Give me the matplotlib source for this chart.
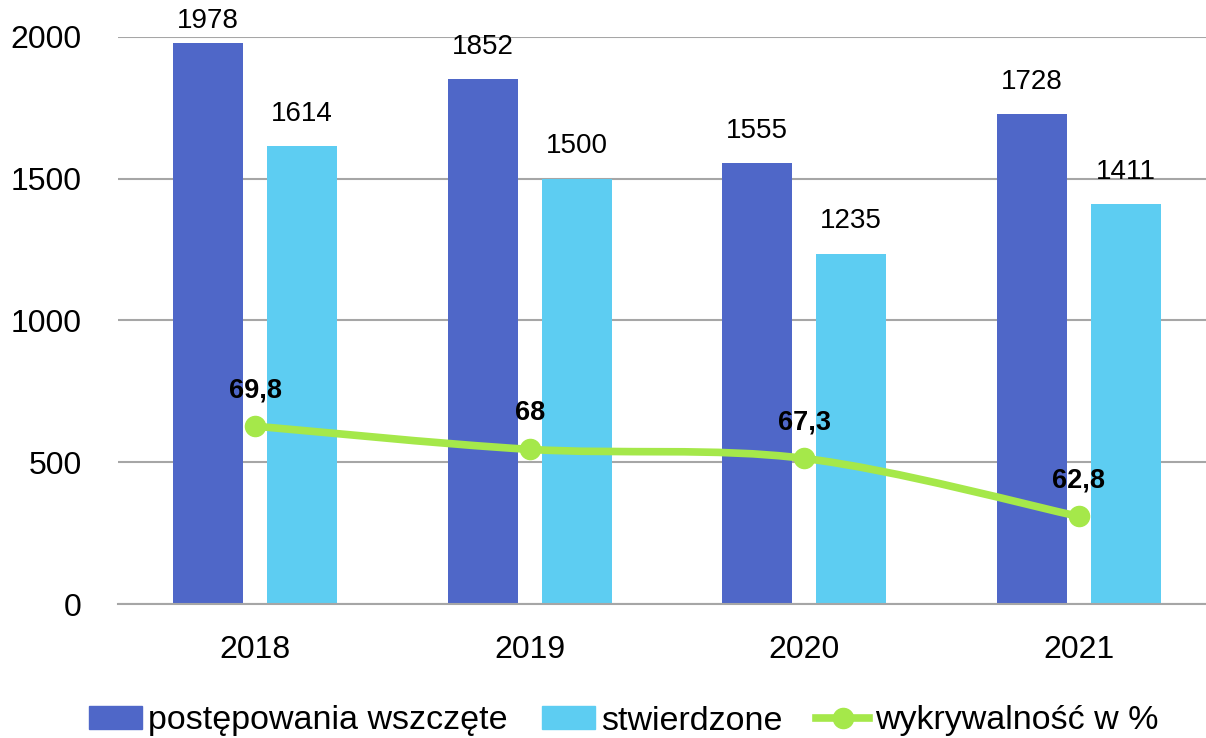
import numpy as np
import matplotlib
matplotlib.use("Agg")
import matplotlib.pyplot as plt
from matplotlib.path import Path
from matplotlib.patches import PathPatch, Rectangle
from matplotlib.lines import Line2D

plt.rcParams['font.family'] = ['Liberation Sans', 'DejaVu Sans']

years = ['2018', '2019', '2020', '2021']
wszczete = [1978, 1852, 1555, 1728]
stwierdzone = [1614, 1500, 1235, 1411]
wykrywalnosc = [69.8, 68.0, 67.3, 62.8]
wykr_labels = ['69,8', '68', '67,3', '62,8']

c_dark = '#4F67C8'
c_light = '#5DCDF2'
c_green = '#A5E84A'

fig = plt.figure(figsize=(12.06, 7.38), dpi=100)
ax = fig.add_axes([118 / 1206, 1 - 604 / 738, 1098 / 1206, (604 - 37) / 738])

x = np.arange(len(years))
off = 0.171
w = 0.255
ax.bar(x - off, wszczete, w, color=c_dark, zorder=2)
ax.bar(x + off, stwierdzone, w, color=c_light, zorder=2)

# value labels above the bars (the tallest one is squeezed under the top edge)
for xi, v in zip(x, wszczete):
    dy = 7 if v > 1950 else 14
    ax.annotate(str(v), (xi - off, v), xytext=(0, dy), textcoords='offset points',
                ha='center', va='bottom', fontsize=20, zorder=5)
for xi, v in zip(x, stwierdzone):
    ax.annotate(str(v), (xi + off, v), xytext=(0, 14), textcoords='offset points',
                ha='center', va='bottom', fontsize=20, zorder=5)

ax.set_xlim(-0.5, 3.5)
ax.set_ylim(0, 2000)
ax.set_yticks([0, 500, 1000, 1500, 2000])
ax.set_xticks(x)
ax.set_xticklabels(years)
ax.tick_params(axis='both', length=0, labelsize=23)
ax.tick_params(axis='x', pad=22)
ax.tick_params(axis='y', pad=26)
ax.yaxis.grid(True, color='#A6A6A6', linewidth=1.5, zorder=0)
ax.set_axisbelow(True)
for s in ['top', 'right', 'left']:
    ax.spines[s].set_visible(False)
ax.spines['bottom'].set_color('#A6A6A6')
ax.spines['bottom'].set_linewidth(1.5)

# hidden secondary axis for the percentage line
ax2 = ax.twinx()
ax2.set_ylim(56, 100)
ax2.set_axis_off()

# smoothed line through the points (cubic bezier, catmull-rom style)
pts = np.column_stack([x, wykrywalnosc]).astype(float)
verts = [tuple(pts[0])]
codes = [Path.MOVETO]
n = len(pts)
for i in range(n - 1):
    p0 = pts[max(i - 1, 0)]
    p1 = pts[i]
    p2 = pts[i + 1]
    p3 = pts[min(i + 2, n - 1)]
    c1 = p1 + (p2 - p0) / 6
    c2 = p2 - (p3 - p1) / 6
    verts += [tuple(c1), tuple(c2), tuple(p2)]
    codes += [Path.CURVE4] * 3
ax2.add_patch(PathPatch(Path(verts, codes), fill=False, edgecolor=c_green,
                        linewidth=5.5, capstyle='round', zorder=3))
ax2.plot(x, wykrywalnosc, 'o', color=c_green, markersize=14.5, zorder=4)
for xi, v, t in zip(x, wykrywalnosc, wykr_labels):
    ax2.annotate(t, (xi, v), xytext=(0, 21), textcoords='offset points',
                 ha='center', va='baseline', fontsize=19.5, fontweight='bold', zorder=5)

handles = [Rectangle((0, 0), 1, 1, color=c_dark),
           Rectangle((0, 0), 1, 1, color=c_light),
           Line2D([], [], color=c_green, linewidth=5.5, marker='o', markersize=14.5)]
fig.legend(handles, ['postępowania wszczęte', 'stwierdzone', 'wykrywalność w %'],
           loc='center', bbox_to_anchor=(624 / 1206, 1 - 721 / 738), ncol=3, frameon=False,
           fontsize=24.5, handlelength=1.55, handleheight=0.62, handletextpad=0.18,
           columnspacing=1.0, borderpad=0, borderaxespad=0)

fig.savefig('out.png', dpi=100)
